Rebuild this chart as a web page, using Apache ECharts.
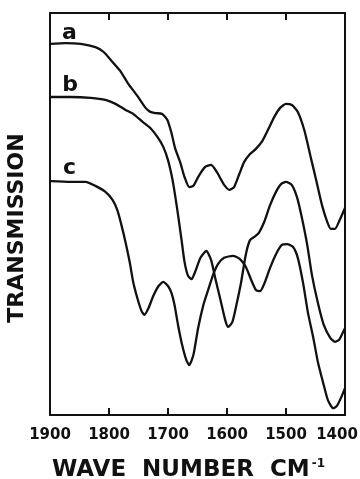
<!DOCTYPE html>
<html><head><meta charset="utf-8">
<script src="https://cdn.jsdelivr.net/npm/echarts@6/dist/echarts.min.js"></script>
<style>html,body{margin:0;padding:0;background:#fff}#c{width:360px;height:479px}</style>
</head><body><div id="c"></div>
<script>
const xTicks = [1900, 1800, 1700, 1600, 1500, 1400];
const curveLabels = ['a', 'b', 'c'];

const waveA = [1899,1874,1848,1823,1809,1794,1781,1767,1752,1738,1730,1721,1710,1701,1694,1688,1679,1672,1664,1657,1649,1637,1627,1617,1606,1596,1588,1579,1571,1561,1551,1540,1530,1520,1510,1500,1490,1480,1469,1459,1449,1439,1430,1424,1417,1409,1400];
const transA = [92.3,92.5,92.3,91.5,90.3,87.8,85.6,82.3,79.4,76.4,75.4,75.1,74.9,73.4,70.1,66.4,62.7,59.2,56.7,57.0,59.2,61.7,62.2,60.4,57.5,56.0,56.7,60.0,62.9,64.9,66.2,68.2,71.1,74.1,76.4,77.4,77.1,75.4,70.9,64.7,58.5,52.2,48.0,46.3,46.3,48.5,51.5];

const waveB = [1899,1865,1831,1806,1789,1772,1759,1743,1730,1718,1708,1700,1693,1688,1683,1677,1672,1666,1660,1654,1645,1635,1627,1620,1611,1603,1598,1591,1584,1576,1568,1561,1552,1546,1537,1527,1517,1508,1500,1490,1481,1473,1464,1456,1446,1436,1425,1417,1410,1405,1400];
const transB = [79.1,79.1,78.9,78.4,77.4,75.9,74.9,72.9,71.4,69.2,66.7,63.4,59.0,54.7,49.8,43.5,38.1,34.6,33.8,35.6,39.1,40.8,38.6,34.1,28.6,23.6,21.9,23.1,27.4,33.1,40.0,43.5,44.5,45.3,48.0,52.2,55.5,57.5,58.0,57.2,54.0,49.0,42.3,34.8,27.9,22.4,19.2,18.2,18.7,20.1,21.6];

const waveC = [1899,1865,1840,1823,1806,1794,1786,1779,1772,1765,1759,1752,1745,1740,1733,1725,1716,1708,1700,1694,1689,1683,1676,1669,1664,1657,1649,1640,1632,1623,1615,1605,1590,1578,1568,1559,1551,1544,1537,1527,1517,1507,1498,1488,1480,1471,1463,1454,1446,1437,1429,1420,1414,1407,1400];
const transC = [58.2,58.0,58.0,57.0,55.5,53.5,51.0,47.3,43.0,38.1,33.1,29.1,25.9,24.9,26.6,29.6,32.1,33.1,32.1,30.3,27.4,22.4,17.4,13.7,12.4,14.9,21.6,27.4,31.1,35.1,37.6,39.1,39.6,38.8,36.8,33.6,31.1,30.8,32.6,36.6,40.0,42.3,42.5,41.8,39.1,32.8,25.6,19.4,13.2,8.0,3.7,1.7,2.2,4.2,6.7];

const labelPos = [[1867, 95.0], [1866, 82.1], [1867, 61.4]];

const zip = (xs, ys) => xs.map((x, i) => [x, ys[i]]);
const FONT = 'DejaVu Sans';
const INK = '#111';

function makeSeries(name, xs, ys, lp) {
  return {
    name: name, type: 'line', data: zip(xs, ys), showSymbol: false, smooth: 0.2,
    lineStyle: { color: INK, width: 2.3 }, silent: true, animation: false,
    markPoint: {
      symbol: 'circle', symbolSize: 0, silent: true,
      data: [{ coord: lp, value: name }],
      label: { show: true, position: 'inside', formatter: name, color: INK,
        fontFamily: FONT, fontWeight: 'bold', fontSize: 22 }
    }
  };
}

const axisCommon = {
  type: 'value', min: 1400, max: 1900, interval: 100, inverse: true,
  axisLine: { show: true, onZero: false, lineStyle: { color: INK, width: 2 } },
  axisTick: { show: true, inside: true, length: 7, lineStyle: { color: INK, width: 2 } },
  splitLine: { show: false }
};

const chart = echarts.init(document.getElementById('c'));
chart.setOption({
  animation: false,
  backgroundColor: '#fff',
  grid: { left: 50, right: 15, top: 13, bottom: 64, containLabel: false, outerBoundsMode: 'none' },
  xAxis: [
    Object.assign({}, axisCommon, {
      position: 'bottom',
      axisLabel: {
        show: true, margin: 13, color: INK, fontFamily: FONT, fontWeight: 'bold', fontSize: 15,
        formatter: v => xTicks.includes(v) ? (v === 1400 ? '{r|' + v + '}' : String(v)) : '',
        rich: { r: { fontFamily: FONT, fontWeight: 'bold', fontSize: 15, color: INK, padding: [0, 16, 0, 0] } }
      },
      name: '{m|WAVE  NUMBER  CM}{s|-1}',
      nameLocation: 'middle', nameGap: 43,
      nameTextStyle: {
        padding: [0, 18, 0, 0],
        rich: {
          m: { fontFamily: FONT, fontWeight: 'bold', fontSize: 23, color: INK },
          s: { fontFamily: FONT, fontWeight: 'bold', fontSize: 12, color: INK, padding: [0, 0, 12, 2] }
        }
      }
    }),
    Object.assign({}, axisCommon, { position: 'top', axisLabel: { show: false } })
  ],
  yAxis: [
    {
      type: 'value', min: 0, max: 100, position: 'left',
      axisLine: { show: true, lineStyle: { color: INK, width: 2 } },
      axisTick: { show: false }, axisLabel: { show: false }, splitLine: { show: false },
      name: 'TRANSMISSION', nameLocation: 'middle', nameGap: 22,
      nameTextStyle: { color: INK, fontFamily: FONT, fontWeight: 'bold', fontSize: 22, padding: [0, 28, 0, 0] }
    },
    {
      type: 'value', min: 0, max: 100, position: 'right',
      axisLine: { show: true, lineStyle: { color: INK, width: 2 } },
      axisTick: { show: false }, axisLabel: { show: false }, splitLine: { show: false }
    }
  ],
  series: [
    makeSeries(curveLabels[0], waveA, transA, labelPos[0]),
    makeSeries(curveLabels[1], waveB, transB, labelPos[1]),
    makeSeries(curveLabels[2], waveC, transC, labelPos[2])
  ]
});
</script></body></html>
